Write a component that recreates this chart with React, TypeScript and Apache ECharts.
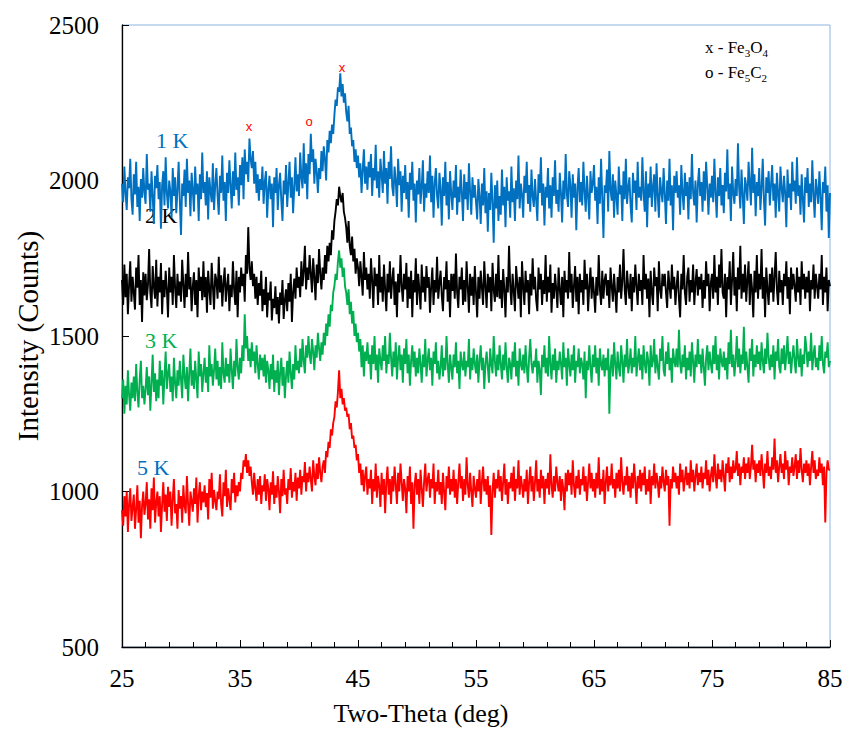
import React, { useEffect, useRef } from "react";
import * as echarts from "echarts";

const startAngle = 25;
const stepAngle = 0.1;
const pointCount = 601;
const twoTheta: number[] = Array.from({ length: pointCount }, (_, i) => +(startAngle + i * stepAngle).toFixed(1));

const k1: number[] = [
  1990, 1930, 2045, 1960, 1905, 2010, 1975, 2070, 1940, 1890,
  2020, 1955, 2060, 1915, 1980, 1870, 2005, 1945, 2040, 1960,
  1925, 2085, 1970, 1990, 1900, 2030, 1950, 1860, 2015, 1975,
  2050, 1940, 1995, 1845, 1985, 2030, 1920, 2075, 1960, 1910,
  2000, 1965, 1880, 2040, 1950, 2010, 1895, 1970, 2060, 1935,
  1825, 1990, 1950, 2035, 1915, 2070, 1960, 2000, 1885, 2025,
  1970, 1900, 2045, 1955, 1990, 1870, 2020, 1940, 2090, 1960,
  1995, 1920, 2030, 1875, 2010, 1965, 1930, 2055, 1905, 1985,
  2040, 1950, 1890, 2015, 1960, 2080, 1935, 1995, 1870, 2025,
  1960, 2065, 1985, 1910, 2030, 1950, 2090, 1970, 2010, 1920,
  2050, 1985, 2075, 1940, 2100, 2020, 2060, 1995, 2135, 2070,
  2040, 2095, 1990, 2060, 1960, 2020, 1935, 2005, 1970, 2045,
  1925, 1995, 2030, 1880, 1970, 2015, 1940, 1990, 1850, 2010,
  1960, 2040, 1905, 1985, 2025, 1935, 1870, 2000, 1955, 2050,
  1915, 1990, 2060, 1945, 2010, 1895, 1980, 2075, 1965, 2020,
  1950, 2090, 2010, 1975, 2120, 1990, 2055, 1940, 2085, 2020,
  2150, 2060, 2100, 1990, 2070, 2030, 1960, 2040, 2005, 2095,
  2030, 2110, 2070, 2000, 2130, 2090, 2160, 2120, 2180, 2150,
  2210, 2260, 2240, 2300, 2285, 2345, 2270, 2310, 2250, 2280,
  2220, 2190, 2240, 2150, 2170, 2110, 2130, 2060, 2100, 2040,
  2080, 2010, 2055, 1960, 2035, 2100, 1990, 2045, 1970, 2060,
  2010, 2085, 1950, 2040, 2000, 2115, 1975, 2030, 1945, 2070,
  2020, 1960, 2095, 1990, 2040, 1925, 2060, 2005, 2110, 1980,
  1950, 2045, 2000, 1915, 2070, 1985, 2030, 1900, 2015, 1960,
  2050, 1940, 1995, 1880, 2025, 1970, 2060, 1935, 1990, 1865,
  2000, 1955, 2040, 1925, 1980, 2065, 1900, 1990, 1945, 2030,
  1960, 2080, 1930, 2015, 1880, 1990, 2040, 1950, 1910, 2025,
  1975, 1855, 2010, 1950, 2060, 1920, 1995, 1875, 2030, 1960,
  1905, 2000, 1945, 2050, 1890, 1980, 1930, 2035, 1960, 1870,
  2020, 1940, 1995, 1905, 2055, 1965, 1890, 2010, 1945, 1985,
  1930, 1875, 2005, 1950, 1860, 1990, 1920, 2040, 1895, 1965,
  1835, 1960, 1905, 2025, 1930, 1800, 1985, 1910, 2000, 1870,
  1950, 1890, 2035, 1920, 1980, 1850, 2010, 1935, 1965, 1880,
  2045, 1930, 1975, 1870, 2000, 1940, 2080, 1910, 1990, 1955,
  1880, 2015, 1960, 2060, 1925, 1985, 1900, 2035, 1950, 1915,
  2005, 1935, 1870, 2020, 1960, 2075, 1920, 1990, 1855, 1980,
  1945, 2040, 1910, 1985, 1880, 2010, 1950, 2065, 1925, 1970,
  1900, 2025, 1960, 1865, 2000, 1940, 2085, 1955, 1915, 2030,
  1985, 1880, 2020, 1945, 1990, 1840, 1975, 2040, 1930, 1995,
  1920, 2060, 1965, 1900, 2015, 1950, 1875, 2030, 1960, 1990,
  2050, 1935, 1980, 1860, 2010, 1925, 2070, 1945, 1815, 1985,
  1960, 2035, 1900, 2095, 1970, 1935, 2020, 1880, 2000, 1950,
  1890, 2045, 1955, 1985, 1870, 2030, 1940, 2070, 1925, 1975,
  2010, 1920, 1865, 2025, 1960, 2000, 1905, 2060, 1945, 1980,
  1935, 2075, 1960, 1900, 2030, 1850, 1990, 1945, 2045, 1915,
  1980, 2020, 1900, 2055, 1950, 1880, 2010, 1965, 1930, 2040,
  1955, 1860, 2000, 1935, 2070, 1920, 1985, 1840, 2015, 1960,
  2030, 1945, 1985, 1890, 2050, 1960, 1905, 2025, 1950, 1995,
  1875, 2010, 1940, 2085, 1960, 1920, 2000, 1865, 1985, 2040,
  1950, 1995, 1900, 2030, 1935, 2060, 1980, 1890, 1990, 1945,
  2015, 1930, 2070, 1960, 1880, 2010, 1950, 2040, 1920, 1985,
  1895, 2025, 1965, 2100, 1940, 1990, 1870, 2045, 1960, 1925,
  2005, 1950, 2120, 1975, 1910, 2035, 1955, 1860, 2010, 1980,
  1935, 2060, 1990, 1920, 2105, 1960, 2020, 1885, 1995, 1950,
  2040, 1905, 1975, 2070, 1940, 1855, 2010, 1960, 2030, 1920,
  1985, 2050, 1935, 1990, 1880, 2025, 1960, 1900, 2045, 1975,
  1930, 2015, 1960, 1850, 2035, 1945, 1990, 1905, 2060, 1965,
  2000, 1925, 2075, 1950, 1985, 1890, 2020, 1940, 1865, 2010,
  1960, 2040, 1915, 1990, 1930, 2065, 1955, 1880, 2005, 1970,
  1925, 2030, 1950, 1840, 1995, 1960, 2045, 1900, 1985, 1815,
  1960,
];

const k2: number[] = [
  1680, 1600, 1730, 1625, 1700, 1570, 1665, 1740, 1610, 1690,
  1640, 1585, 1720, 1655, 1760, 1600, 1680, 1545, 1705, 1630,
  1700, 1615, 1665, 1780, 1640, 1590, 1725, 1660, 1620, 1745,
  1595, 1690, 1640, 1735, 1570, 1680, 1625, 1710, 1650, 1560,
  1720, 1640, 1690, 1600, 1760, 1655, 1590, 1700, 1630, 1675,
  1610, 1745, 1665, 1590, 1700, 1625, 1770, 1650, 1690, 1580,
  1660, 1705, 1600, 1680, 1560, 1720, 1645, 1690, 1615, 1740,
  1625, 1690, 1575, 1710, 1650, 1600, 1735, 1660, 1585, 1700,
  1680, 1620, 1755, 1640, 1695, 1595, 1670, 1720, 1610, 1660,
  1700, 1580, 1665, 1625, 1740, 1650, 1600, 1710, 1560, 1690,
  1640, 1720, 1660, 1700, 1610, 1760, 1700, 1850, 1720, 1680,
  1740, 1660, 1700, 1620, 1690, 1600, 1670, 1630, 1710, 1580,
  1650, 1600, 1690, 1560, 1640, 1615, 1675, 1550, 1620, 1590,
  1660, 1570, 1625, 1540, 1640, 1600, 1680, 1555, 1615, 1650,
  1580, 1670, 1610, 1700, 1545, 1640, 1685, 1620, 1720, 1655,
  1690, 1625, 1740, 1660, 1710, 1790, 1650, 1720, 1680, 1760,
  1700, 1640, 1750, 1690, 1615, 1730, 1670, 1780, 1700, 1650,
  1720, 1680, 1760, 1700, 1790, 1740, 1800, 1760, 1840, 1810,
  1870, 1900, 1940, 1920, 1980, 1950, 1930, 1960, 1900, 1880,
  1850, 1800, 1870, 1790, 1760, 1820, 1740, 1780, 1700, 1750,
  1720, 1660, 1740, 1690, 1630, 1770, 1680, 1720, 1650, 1700,
  1620, 1750, 1680, 1590, 1720, 1660, 1700, 1600, 1760, 1640,
  1690, 1610, 1730, 1650, 1580, 1700, 1640, 1740, 1620, 1680,
  1720, 1600, 1675, 1560, 1700, 1640, 1760, 1660, 1610, 1700,
  1650, 1735, 1590, 1690, 1620, 1710, 1560, 1680, 1640, 1750,
  1600, 1700, 1650, 1585, 1730, 1640, 1690, 1610, 1725, 1655,
  1690, 1575, 1660, 1720, 1600, 1680, 1640, 1755, 1620, 1670,
  1710, 1630, 1580, 1690, 1650, 1740, 1610, 1680, 1560, 1700,
  1645, 1700, 1620, 1765, 1640, 1590, 1690, 1650, 1720, 1600,
  1680, 1610, 1740, 1660, 1575, 1700, 1630, 1690, 1600, 1725,
  1640, 1560, 1690, 1620, 1710, 1655, 1600, 1740, 1660, 1590,
  1700, 1640, 1690, 1580, 1735, 1650, 1610, 1700, 1625, 1760,
  1620, 1680, 1590, 1715, 1650, 1560, 1690, 1640, 1790, 1660,
  1600, 1700, 1645, 1580, 1725, 1670, 1620, 1690, 1560, 1740,
  1660, 1600, 1710, 1640, 1680, 1570, 1700, 1630, 1750, 1650,
  1690, 1615, 1580, 1720, 1650, 1700, 1600, 1680, 1635, 1760,
  1610, 1690, 1640, 1730, 1575, 1670, 1620, 1700, 1650, 1590,
  1720, 1650, 1600, 1690, 1560, 1710, 1640, 1680, 1620, 1770,
  1640, 1700, 1590, 1660, 1725, 1610, 1690, 1570, 1700, 1640,
  1680, 1600, 1745, 1650, 1700, 1580, 1660, 1720, 1620, 1690,
  1640, 1575, 1690, 1630, 1760, 1650, 1600, 1710, 1620, 1680,
  1700, 1630, 1680, 1590, 1720, 1660, 1610, 1700, 1640, 1575,
  1690, 1640, 1730, 1620, 1675, 1780, 1650, 1600, 1710, 1660,
  1620, 1700, 1580, 1690, 1640, 1730, 1660, 1600, 1700, 1645,
  1680, 1600, 1760, 1650, 1700, 1620, 1685, 1560, 1710, 1640,
  1600, 1720, 1660, 1690, 1580, 1740, 1650, 1620, 1700, 1660,
  1700, 1640, 1590, 1710, 1660, 1620, 1730, 1650, 1690, 1600,
  1660, 1710, 1620, 1560, 1700, 1650, 1760, 1640, 1600, 1690,
  1720, 1610, 1680, 1640, 1730, 1600, 1670, 1715, 1630, 1690,
  1650, 1700, 1590, 1680, 1620, 1740, 1660, 1700, 1580, 1670,
  1700, 1620, 1760, 1640, 1690, 1600, 1730, 1655, 1780, 1640,
  1620, 1700, 1560, 1690, 1650, 1740, 1600, 1680, 1770, 1630,
  1690, 1580, 1720, 1650, 1790, 1620, 1700, 1640, 1730, 1610,
  1680, 1740, 1600, 1700, 1650, 1560, 1710, 1640, 1760, 1620,
  1700, 1650, 1780, 1620, 1690, 1560, 1720, 1650, 1600, 1700,
  1640, 1720, 1610, 1690, 1770, 1650, 1600, 1710, 1640, 1680,
  1600, 1700, 1660, 1740, 1620, 1690, 1570, 1720, 1650, 1700,
  1660, 1610, 1720, 1640, 1690, 1600, 1740, 1650, 1700, 1620,
  1690, 1640, 1710, 1580, 1680, 1650, 1730, 1620, 1700, 1660,
  1620, 1700, 1650, 1760, 1600, 1690, 1640, 1720, 1580, 1680,
  1660,
];

const k3: number[] = [
  1300, 1360, 1250, 1340, 1280, 1390, 1310, 1260, 1350, 1300,
  1370, 1290, 1410, 1320, 1270, 1360, 1420, 1300, 1340, 1280,
  1330, 1400, 1310, 1370, 1260, 1350, 1440, 1320, 1380, 1290,
  1360, 1300, 1420, 1340, 1390, 1280, 1370, 1450, 1330, 1380,
  1410, 1320, 1370, 1290, 1430, 1350, 1300, 1390, 1340, 1420,
  1360, 1300, 1440, 1370, 1330, 1400, 1290, 1380, 1460, 1340,
  1390, 1330, 1420, 1360, 1300, 1450, 1370, 1410, 1320, 1380,
  1430, 1350, 1400, 1320, 1470, 1370, 1410, 1340, 1390, 1460,
  1360, 1420, 1340, 1400, 1330, 1480, 1380, 1350, 1430, 1370,
  1410, 1350, 1460, 1390, 1330, 1420, 1370, 1490, 1400, 1360,
  1430, 1380, 1470, 1420, 1570, 1460, 1500, 1420, 1460, 1400,
  1480, 1420, 1450, 1380, 1470, 1410, 1360, 1440, 1390, 1430,
  1370, 1440, 1350, 1420, 1390, 1330, 1410, 1360, 1440, 1320,
  1390, 1350, 1420, 1310, 1380, 1430, 1340, 1400, 1300, 1370,
  1420, 1350, 1450, 1380, 1330, 1410, 1360, 1470, 1390, 1420,
  1380, 1460, 1400, 1490, 1420, 1380, 1470, 1430, 1500, 1440,
  1410, 1490, 1450, 1390, 1470, 1430, 1510, 1460, 1420, 1480,
  1440, 1510, 1470, 1540, 1500, 1570, 1530, 1600, 1580, 1640,
  1660, 1700, 1680, 1740, 1775, 1720, 1750, 1690, 1720, 1660,
  1640, 1600, 1650, 1570, 1610, 1540, 1580, 1500, 1540, 1480,
  1510, 1450, 1490, 1400, 1470, 1370, 1450, 1420, 1480, 1410,
  1440, 1360, 1470, 1410, 1500, 1390, 1440, 1350, 1460, 1420,
  1390, 1470, 1420, 1500, 1380, 1440, 1410, 1510, 1430, 1370,
  1450, 1400, 1480, 1360, 1430, 1470, 1390, 1440, 1350, 1460,
  1410, 1490, 1380, 1440, 1340, 1420, 1470, 1400, 1450, 1370,
  1430, 1380, 1460, 1410, 1350, 1440, 1400, 1490, 1370, 1420,
  1460, 1390, 1430, 1340, 1450, 1410, 1480, 1380, 1420, 1360,
  1400, 1470, 1370, 1430, 1390, 1500, 1410, 1350, 1440, 1400,
  1360, 1440, 1400, 1480, 1380, 1420, 1330, 1450, 1410, 1390,
  1450, 1370, 1420, 1400, 1490, 1360, 1430, 1390, 1460, 1410,
  1380, 1440, 1350, 1420, 1470, 1390, 1430, 1330, 1410, 1450,
  1400, 1350, 1460, 1410, 1380, 1500, 1420, 1370, 1440, 1390,
  1470, 1410, 1360, 1440, 1390, 1480, 1400, 1350, 1430, 1410,
  1360, 1450, 1400, 1480, 1370, 1420, 1340, 1460, 1410, 1390,
  1440, 1380, 1470, 1400, 1350, 1430, 1490, 1410, 1380, 1420,
  1400, 1460, 1350, 1420, 1390, 1310, 1440, 1400, 1470, 1380,
  1430, 1370, 1500, 1410, 1360, 1440, 1390, 1460, 1350, 1420,
  1390, 1450, 1410, 1360, 1480, 1400, 1430, 1340, 1460, 1410,
  1370, 1440, 1390, 1470, 1350, 1420, 1400, 1460, 1380, 1430,
  1410, 1360, 1450, 1300, 1420, 1390, 1470, 1400, 1350, 1440,
  1400, 1470, 1380, 1430, 1340, 1460, 1410, 1390, 1440, 1370,
  1430, 1390, 1460, 1250, 1400, 1440, 1370, 1480, 1410, 1360,
  1450, 1400, 1370, 1470, 1420, 1350, 1440, 1400, 1490, 1380,
  1410, 1460, 1380, 1430, 1400, 1500, 1370, 1420, 1460, 1390,
  1440, 1360, 1470, 1410, 1380, 1450, 1420, 1340, 1470, 1400,
  1420, 1490, 1380, 1440, 1400, 1360, 1460, 1420, 1500, 1390,
  1370, 1450, 1410, 1480, 1390, 1430, 1350, 1460, 1420, 1400,
  1460, 1400, 1520, 1410, 1380, 1440, 1400, 1470, 1360, 1430,
  1390, 1450, 1370, 1480, 1420, 1350, 1440, 1400, 1490, 1410,
  1440, 1380, 1460, 1400, 1340, 1430, 1470, 1390, 1450, 1410,
  1380, 1470, 1410, 1500, 1390, 1440, 1360, 1460, 1420, 1400,
  1450, 1390, 1430, 1360, 1480, 1410, 1520, 1400, 1440, 1370,
  1420, 1500, 1400, 1460, 1380, 1440, 1410, 1530, 1390, 1450,
  1400, 1350, 1460, 1420, 1490, 1370, 1440, 1400, 1470, 1410,
  1450, 1390, 1480, 1420, 1380, 1460, 1410, 1510, 1430, 1390,
  1440, 1400, 1470, 1360, 1450, 1420, 1490, 1400, 1380, 1460,
  1410, 1470, 1390, 1440, 1500, 1410, 1450, 1380, 1430, 1470,
  1420, 1380, 1490, 1430, 1400, 1460, 1370, 1440, 1410, 1500,
  1460, 1400, 1450, 1420, 1510, 1390, 1440, 1470, 1400, 1430,
  1390, 1470, 1420, 1500, 1410, 1380, 1450, 1430, 1480, 1400,
  1420,
];

const k5: number[] = [
  940, 890, 985, 920, 1000, 870, 960, 1010, 905, 950,
  990, 880, 945, 1020, 900, 970, 850, 955, 1000, 925,
  960, 1030, 910, 975, 880, 1010, 940, 1045, 900, 965,
  1000, 920, 985, 870, 960, 1030, 935, 990, 905, 1015,
  950, 1000, 890, 975, 1040, 930, 960, 880, 1005, 945,
  985, 900, 1020, 955, 930, 1050, 960, 890, 1000, 970,
  935, 1010, 960, 1045, 900, 985, 1030, 940, 1000, 965,
  1020, 950, 995, 910, 1040, 980, 1060, 945, 1005, 970,
  940, 1000, 975, 1055, 960, 920, 1030, 985, 1070, 950,
  1010, 975, 940, 1040, 995, 1060, 965, 1020, 985, 1030,
  1000, 1060, 1040, 1100, 1080, 1120, 1060, 1100, 1050, 1080,
  1030, 990, 1060, 1010, 970, 1040, 990, 1050, 960, 1020,
  1000, 1055, 970, 1040, 1010, 940, 1030, 990, 1065, 960,
  1020, 980, 1050, 1000, 930, 1040, 985, 1070, 990, 1010,
  960, 1040, 1005, 1075, 980, 1030, 1000, 1060, 970, 1045,
  1010, 1070, 990, 1050, 1030, 1095, 1000, 1060, 1030, 1080,
  1040, 1000, 1100, 1050, 1020, 1090, 1040, 1110, 1060, 1030,
  1080, 1100, 1060, 1130, 1110, 1160, 1140, 1200, 1180, 1220,
  1240, 1290, 1270, 1320, 1390, 1300, 1330, 1280, 1300, 1260,
  1270, 1240, 1250, 1200, 1220, 1170, 1180, 1140, 1150, 1100,
  1120, 1060, 1090, 1020, 1070, 1000, 1050, 1080, 990, 1040,
  1010, 1070, 960, 1040, 1000, 1090, 980, 1050, 1020, 950,
  1060, 990, 1040, 930, 1030, 1080, 990, 1040, 960, 1050,
  1000, 1080, 1020, 960, 1060, 1000, 1090, 1030, 970, 1040,
  1010, 930, 1050, 1000, 1080, 960, 1030, 880, 1020, 1060,
  990, 1040, 960, 1070, 1010, 950, 1030, 1090, 1000, 1040,
  1060, 980, 1040, 1010, 1090, 960, 1030, 1000, 1070, 990,
  1030, 960, 1060, 1000, 940, 1050, 1010, 1080, 990, 1040,
  1000, 1070, 980, 1040, 960, 1030, 1090, 1010, 1050, 970,
  1040, 990, 1110, 1020, 980, 1060, 1000, 950, 1050, 1010,
  980, 1040, 1000, 1070, 960, 1030, 1080, 1000, 1040, 990,
  1050, 950, 1020, 860, 1000, 1060, 980, 1040, 1010, 1070,
  1000, 1050, 970, 1030, 1090, 990, 1040, 960, 1030, 1010,
  1060, 1000, 1080, 970, 1040, 1010, 1100, 990, 1050, 1020,
  980, 1040, 1000, 1070, 960, 1030, 1080, 1000, 1050, 970,
  1030, 1100, 1000, 1040, 980, 1070, 1010, 1050, 960, 1040,
  1010, 1060, 990, 1120, 1020, 980, 1050, 1000, 1080, 1030,
  1000, 1050, 970, 1040, 1010, 940, 1060, 1000, 1070, 1020,
  1060, 990, 1100, 1020, 980, 1050, 1010, 1070, 990, 1040,
  1020, 1080, 1000, 1050, 970, 1030, 1090, 1010, 1060, 1000,
  1040, 980, 1060, 1010, 1110, 990, 1040, 1000, 1070, 960,
  1030, 1080, 1000, 1050, 1020, 1090, 1010, 1040, 980, 1060,
  1010, 1070, 1000, 1110, 1030, 990, 1050, 1020, 1080, 1000,
  1050, 980, 1060, 1010, 1090, 1030, 960, 1050, 1010, 1070,
  1000, 1060, 1020, 1080, 990, 1040, 1000, 1070, 960, 1050,
  1020, 1090, 1010, 1060, 1030, 980, 1050, 1010, 1080, 1030,
  1000, 1070, 1020, 1050, 890, 1040, 1010, 1080, 1030, 1060,
  1010, 1050, 990, 1090, 1030, 1070, 1000, 1040, 1080, 1020,
  1060, 1010, 1100, 1030, 1070, 1000, 1050, 1090, 1020, 1060,
  1030, 1080, 1010, 1060, 1040, 1100, 1020, 1070, 1000, 1050,
  1080, 1030, 1120, 1050, 1010, 1090, 1040, 1070, 1030, 1100,
  1050, 1000, 1090, 1060, 1110, 1030, 1080, 1040, 1100, 1060,
  1070, 1130, 1050, 1090, 1020, 1080, 1060, 1110, 1040, 1090,
  1060, 1110, 1040, 1080, 1150, 1070, 1100, 1030, 1090, 1060,
  1100, 1050, 1120, 1070, 1010, 1090, 1060, 1130, 1050, 1080,
  1040, 1110, 1070, 1170, 1060, 1100, 1030, 1080, 1120, 1060,
  1090, 1040, 1130, 1070, 1100, 1020, 1080, 1060, 1110, 1050,
  1080, 1120, 1040, 1100, 1060, 1140, 1070, 1030, 1090, 1060,
  1100, 1050, 1090, 1020, 1080, 1130, 1060, 1100, 1040, 1070,
  1050, 1110, 1060, 1090, 1020, 1080, 900, 1060, 1100, 1070,
  1070,
];

const seriesNames = ["1 K", "2 K", "3 K", "5 K"];
const seriesColors = ["#0070C0", "#000000", "#00B050", "#FF0000"];
const seriesLabelColors = ["#0070C0", "#000000", "#00B050", "#0070C0"];
const seriesValues = [k1, k2, k3, k5];

const xTickLabels = [25, 35, 45, 55, 65, 75, 85];
const yTickLabels = [500, 1000, 1500, 2000, 2500];
const xTicks = { min: 25, max: 85, interval: 10 };
const yTicks = { min: 500, max: 2500, interval: 500 };
const xTitle = "Two-Theta (deg)";
const yTitle = "Intensity (Counts)";

const serif = (size: number) => `${size}px "Liberation Serif", "Times New Roman", serif`;
const sans = (size: number) => `${size}px "Liberation Sans", Arial, sans-serif`;

export default function App() {
  const ref = useRef<HTMLDivElement>(null);
  useEffect(() => {
    if (!ref.current) return;
    const chart = echarts.init(ref.current, null, { renderer: "svg" });
    const series = seriesValues.map((vals, s) => ({
      name: seriesNames[s],
      type: "line",
      data: twoTheta.map((x, i) => [x, vals[i]]),
      showSymbol: false,
      symbol: "none",
      lineStyle: { color: seriesColors[s], width: 1.9 },
      itemStyle: { color: seriesColors[s] },
      z: 2 + s,
    }));
    chart.setOption({
      animation: false,
      backgroundColor: "#ffffff",
      grid: {
        left: 122,
        right: 20,
        top: 25,
        bottom: 91,
        show: true,
        borderColor: "#8DB4E2",
        borderWidth: 1,
        backgroundColor: "transparent",
      },
      xAxis: {
        type: "value",
        min: xTicks.min,
        max: xTicks.max,
        interval: xTicks.interval,
        axisLine: { show: true, lineStyle: { color: "#000", width: 1.3 } },
        axisTick: { show: true, inside: true, length: 7, lineStyle: { color: "#000" } },
        minorTick: { show: true, splitNumber: 5, length: 5, lineStyle: { color: "#000" } },
        splitLine: { show: false },
        minorSplitLine: { show: false },
        axisLabel: { show: false },
      },
      yAxis: {
        type: "value",
        min: yTicks.min,
        max: yTicks.max,
        interval: yTicks.interval,
        axisLine: { show: true, lineStyle: { color: "#000", width: 1.3 } },
        axisTick: { show: true, inside: true, length: 7, lineStyle: { color: "#000" } },
        splitLine: { show: false },
        axisLabel: { show: false },
      },
      series,
    });

    // Tick labels and titles drawn as text, positioned through the axes' own scales
    const toPx = (x: number, y: number) => chart.convertToPixel({ gridIndex: 0 }, [x, y]) as number[];
    const graphics: any[] = [];
    xTickLabels.forEach((v) => {
      const [px, py] = toPx(v, yTicks.min);
      graphics.push({
        type: "text",
        x: px,
        y: py + 31,
        style: { text: String(v), font: serif(25), fill: "#000", textAlign: "center", textVerticalAlign: "middle" },
      });
    });
    yTickLabels.forEach((v) => {
      const [px, py] = toPx(xTicks.min, v);
      graphics.push({
        type: "text",
        x: px - 23,
        y: py,
        style: { text: String(v), font: serif(25), fill: "#000", textAlign: "right", textVerticalAlign: "middle" },
      });
    });
    const [x0, yb] = toPx(xTicks.min, yTicks.min);
    const [, yt] = toPx(xTicks.min, yTicks.max);
    graphics.push({
      type: "text",
      x: 421,
      y: yb + 66,
      style: { text: xTitle, font: serif(26), fill: "#000", textAlign: "center", textVerticalAlign: "middle" },
    });
    graphics.push({
      type: "text",
      x: x0 - 94,
      y: (yb + yt) / 2,
      rotation: Math.PI / 2,
      style: { text: yTitle, font: serif(29), fill: "#000", textAlign: "center", textVerticalAlign: "middle" },
    });

    // Series labels
    const labelPos = [
      [156, 129],
      [145, 204],
      [145, 329],
      [137, 456],
    ];
    seriesNames.forEach((n, s) => {
      graphics.push({
        type: "text",
        x: labelPos[s][0],
        y: labelPos[s][1],
        style: { text: n, font: serif(22), fill: seriesLabelColors[s], textAlign: "left", textVerticalAlign: "top" },
      });
    });

    // Phase markers
    graphics.push({ type: "text", x: 249, y: 126, style: { text: "x", fill: "#FF0000", font: sans(13), textAlign: "center", textVerticalAlign: "middle" } });
    graphics.push({ type: "text", x: 309, y: 121, style: { text: "o", fill: "#FF0000", font: sans(13), textAlign: "center", textVerticalAlign: "middle" } });
    graphics.push({ type: "text", x: 342, y: 67, style: { text: "x", fill: "#FF0000", font: sans(13), textAlign: "center", textVerticalAlign: "middle" } });

    // Phase key
    const rich = {
      m: { font: serif(17), lineHeight: 22, fill: "#000", verticalAlign: "middle" },
      s: { font: serif(11), lineHeight: 11, fill: "#000", verticalAlign: "bottom" },
    };
    graphics.push({ type: "text", x: 705, y: 36, style: { text: "{m|x - Fe}{s|3}{m|O}{s|4}", rich } });
    graphics.push({ type: "text", x: 705, y: 61, style: { text: "{m|o - Fe}{s|5}{m|C}{s|2}", rich } });

    chart.setOption({ graphic: graphics });
    return () => chart.dispose();
  }, []);
  return <div ref={ref} style={{ width: 850, height: 738, margin: -8 }} />;
}
